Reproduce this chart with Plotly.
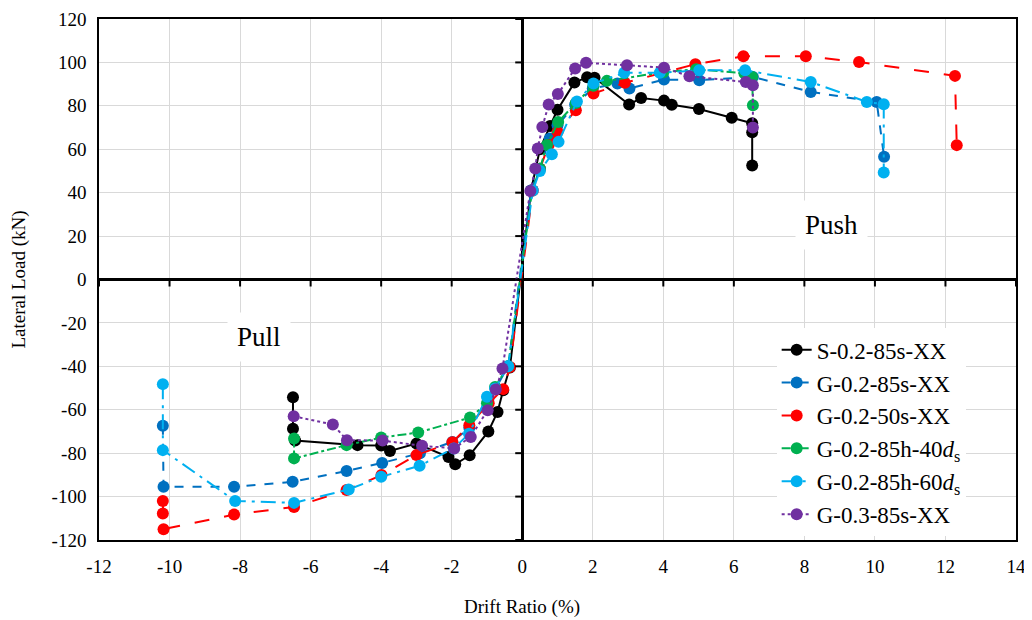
import plotly.graph_objects as go

# ---------------- data ----------------
names = ["S-0.2-85s-XX", "G-0.2-85s-XX", "G-0.2-50s-XX",
         "G-0.2-85h-40<i>d</i><sub>s</sub>", "G-0.2-85h-60<i>d</i><sub>s</sub>", "G-0.3-85s-XX"]

# S-0.2-85s-XX
s1_x = [-6.5, -6.5, -6.44, -4.67, -4.0, -3.75, -3.0, -2.09, -1.9, -1.49, -0.96, -0.7, -0.54, -0.35,
        0.25, 0.5, 0.79, 1.0, 1.48, 1.84, 2.05, 3.03, 3.37, 4.02, 4.24, 5.01, 5.94, 6.52, 6.52, 6.52]
s1_y = [-54.2, -68.8, -74.2, -76.3, -76.5, -79.0, -75.6, -81.8, -85.1, -81.0, -70.0, -61.0, -51.0, -40.5,
        41.0, 60.0, 70.7, 78.2, 90.7, 93.2, 92.9, 80.6, 83.6, 82.4, 80.5, 78.5, 74.5, 72.0, 67.8, 52.5]

# G-0.2-85s-XX
s2_x = [-10.19, -10.17, -8.17, -6.51, -4.98, -3.97, -2.9, -1.98, -1.5, -0.96, -0.75, -0.4,
        0.25, 0.5, 0.78, 1.0, 1.5, 2.0, 2.7, 3.04, 4.02, 5.02, 6.54, 8.18, 10.05, 10.26]
s2_y = [-67.4, -95.5, -95.5, -93.2, -88.2, -84.5, -80.0, -74.8, -68.3, -55.0, -50.0, -40.0,
        41.0, 51.0, 65.0, 71.0, 80.5, 88.0, 90.3, 88.0, 92.1, 91.8, 93.3, 86.4, 81.8, 56.5]

# G-0.2-50s-XX
s3_x = [-10.19, -10.19, -10.17, -8.17, -6.47, -4.98, -3.99, -3.0, -1.98, -1.5, -0.95, -0.54, -0.35,
        0.3, 0.5, 0.75, 1.0, 1.52, 2.02, 2.91, 4.91, 6.27, 8.04, 9.55, 12.27, 12.32]
s3_y = [-102.0, -107.8, -115.0, -108.3, -104.8, -97.0, -90.1, -80.9, -75.0, -67.1, -57.0, -50.5, -40.3,
        41.0, 51.0, 62.0, 68.0, 78.0, 85.7, 90.6, 99.2, 102.8, 102.8, 100.2, 93.8, 61.9]

# G-0.2-85h-40ds
s4_x = [-6.47, -6.47, -4.98, -4.0, -2.95, -1.48, -1.0, -0.77, -0.4,
        0.28, 0.5, 0.7, 1.02, 1.52, 2.02, 2.4, 4.0, 4.93, 6.3, 6.52, 6.54]
s4_y = [-73.2, -82.4, -76.3, -72.8, -70.5, -63.6, -57.0, -49.5, -40.0,
        41.0, 51.0, 62.0, 72.6, 81.3, 89.2, 91.5, 95.5, 96.8, 95.0, 93.3, 80.3]

# G-0.2-85h-60ds
s5_x = [-10.19, -10.19, -8.14, -6.47, -4.92, -4.0, -2.91, -1.94, -1.51, -1.0, -0.77, -0.4,
        0.3, 0.5, 0.84, 1.03, 1.55, 2.02, 2.89, 3.9, 5.02, 6.32, 8.18, 9.77, 10.25, 10.25]
s5_y = [-48.2, -78.6, -102.0, -102.9, -96.7, -90.9, -85.8, -77.8, -71.0, -54.0, -50.2, -40.0,
        41.0, 50.0, 57.7, 63.4, 82.0, 90.3, 95.2, 95.2, 96.4, 96.4, 91.0, 81.8, 80.7, 49.3]

# G-0.3-85s-XX
s6_x = [-6.48, -5.37, -4.97, -3.96, -2.84, -1.93, -1.46, -0.98, -0.75, -0.56,
        0.23, 0.37, 0.44, 0.57, 0.75, 1.01, 1.5, 1.81, 2.97, 4.02, 4.74, 6.34, 6.54, 6.54]
s6_y = [-63.0, -66.8, -74.0, -74.2, -76.6, -77.8, -72.5, -60.2, -50.7, -41.0,
        40.8, 51.1, 60.3, 70.3, 80.6, 85.4, 97.2, 99.8, 98.7, 97.6, 93.6, 91.0, 89.5, 70.0]

xs = [s1_x, s2_x, s3_x, s4_x, s5_x, s6_x]
ys = [s1_y, s2_y, s3_y, s4_y, s5_y, s6_y]

colors = ["#000000", "#0070C0", "#FF0000", "#00B050", "#00B0F0", "#7030A0"]
dashes = ["solid", "dash", "longdash", "dashdot", "longdashdot", "dot"]

x_ticks = list(range(-12, 15, 2))
y_ticks = list(range(-120, 121, 20))

FONT = "Liberation Serif"

fig = go.Figure()
for nm, x, y, c, d in zip(names, xs, ys, colors, dashes):
    fig.add_trace(go.Scatter(x=x, y=y, mode="lines+markers", name=nm,
                             line=dict(color=c, width=2, dash=d),
                             marker=dict(color=c, size=12)))

fig.update_layout(
    width=1032, height=620,
    margin=dict(l=91, r=24, t=11, b=88),
    paper_bgcolor="white", plot_bgcolor="white",
    font=dict(family=FONT, size=19, color="black"),
    xaxis=dict(range=[-12, 14], tickvals=x_ticks, ticktext=[str(v) for v in x_ticks],
               showgrid=True, gridcolor="#d9d9d9", gridwidth=1,
               showline=True, linecolor="black", linewidth=1.5, mirror=True,
               zeroline=True, zerolinecolor="black", zerolinewidth=2.5,
               ticks="", automargin=False, ticklabelstandoff=8,
               tickfont=dict(family=FONT, size=19)),
    yaxis=dict(range=[-120, 120], tickvals=y_ticks, ticktext=[str(v) for v in y_ticks],
               showgrid=True, gridcolor="#d9d9d9", gridwidth=1,
               showline=True, linecolor="black", linewidth=1.5, mirror=True,
               zeroline=True, zerolinecolor="black", zerolinewidth=2.5,
               ticks="", automargin=False, ticklabelstandoff=7,
               title=dict(text="Lateral Load (kN)", standoff=21, font=dict(family=FONT, size=19)),
               tickfont=dict(family=FONT, size=19)),
    legend=dict(x=0.739, y=0.4065, xanchor="left", yanchor="top",
                bgcolor="white", borderwidth=0,
                font=dict(family=FONT, size=23, color="black")),
    showlegend=True,
)

# tick marks on the axes through the origin
for v in x_ticks:
    fig.add_shape(type="line", xref="x", yref="y", x0=v, x1=v,
                  ysizemode="pixel", yanchor=0, y0=0, y1=-7,
                  line=dict(color="black", width=2), layer="above")
for v in y_ticks:
    fig.add_shape(type="line", xref="x", yref="y", y0=v, y1=v,
                  xsizemode="pixel", xanchor=0, x0=-7, x1=0,
                  line=dict(color="black", width=2), layer="above")

# x-axis title, centred under the origin as in the reference
fig.add_annotation(x=0, y=0, xref="x", yref="paper", text="Drift Ratio (%)",
                   showarrow=False, yanchor="top", yshift=-54,
                   font=dict(family=FONT, size=19, color="black"))

fig.add_annotation(x=8.78, y=25, xref="x", yref="y", text="Push", showarrow=False,
                   font=dict(family=FONT, size=27, color="black"),
                   bgcolor="white", borderpad=9)
fig.add_annotation(x=-7.47, y=-26.5, xref="x", yref="y", text="Pull", showarrow=False,
                   font=dict(family=FONT, size=27, color="black"),
                   bgcolor="white", borderpad=9)

fig.write_html("out.html")
